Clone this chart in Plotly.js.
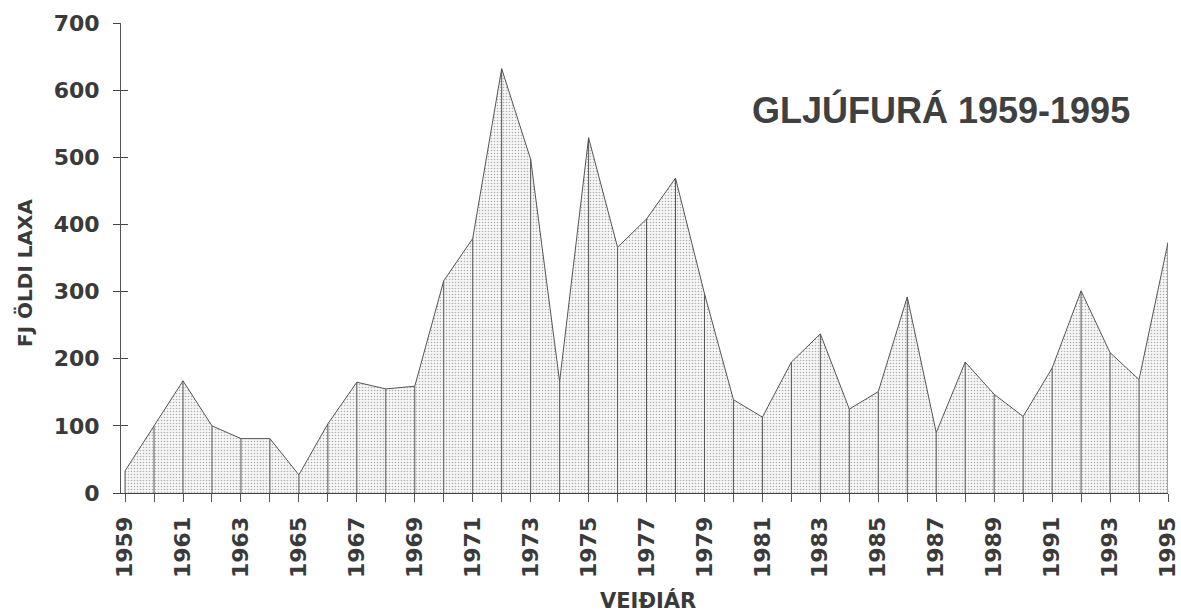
<!DOCTYPE html>
<html>
<head>
<meta charset="utf-8">
<script src="https://cdn.plot.ly/plotly-3.0.1.min.js"></script>
<style>html,body{margin:0;padding:0;background:#fff;}#chart{width:1181px;height:616px;}</style>
</head>
<body>
<div id="chart"></div>
<script>
// Data
const years = [1959,1960,1961,1962,1963,1964,1965,1966,1967,1968,1969,1970,1971,1972,1973,1974,1975,1976,1977,1978,1979,1980,1981,1982,1983,1984,1985,1986,1987,1988,1989,1990,1991,1992,1993,1994,1995];
const catch_ = [33,99,167,100,81,81,27,103,165,155,159,316,379,632,497,166,529,366,408,469,297,139,113,195,237,125,151,292,90,195,147,114,186,301,209,169,373];
const tickYears = [1959,1961,1963,1965,1967,1969,1971,1973,1975,1977,1979,1981,1983,1985,1987,1989,1991,1993,1995];
const yTicks = [0,100,200,300,400,500,600,700];
const titleText = 'GLJÚFURÁ 1959-1995';
const xTitle = 'VEIÐIÁR';
const yTitle = 'FJ ÖLDI LAXA';

// drop lines built from the data arrays
const dropX = [], dropY = [];
years.forEach((yr, i) => { dropX.push(yr, yr, null); dropY.push(0, catch_[i], null); });

const FONT = 'Liberation Sans, Arial, sans-serif';
const WIDE = 'DejaVu Sans, sans-serif';
const TXT = '#3a3a3a';
const L = 121, R = 13, PW = 1181 - L - R;

const traces = [
  {
    x: years, y: catch_, type: 'scatter', mode: 'lines',
    line: {color: '#555', width: 1},
    fill: 'tozeroy',
    fillcolor: '#f2f2f2',
    fillpattern: {shape: '.', fgcolor: '#b0b0b0', bgcolor: '#f7f7f7', size: 3, solidity: 0.22},
    hoverinfo: 'x+y', showlegend: false
  },
  {
    x: dropX, y: dropY, type: 'scatter', mode: 'lines',
    line: {color: '#555', width: 1}, yaxis: 'y2',
    hoverinfo: 'skip', showlegend: false, connectgaps: false
  }
];

const layout = {
  width: 1181, height: 616,
  margin: {l: L, r: R, t: 23, b: 123},
  paper_bgcolor: '#fff', plot_bgcolor: '#fff',
  showlegend: false,
  font: {family: FONT, color: TXT},
  xaxis: {
    range: [1958.86, 1995], showgrid: false, zeroline: false,
    showline: true, linecolor: '#444', linewidth: 1,
    ticks: 'outside', ticklen: 8, tickcolor: '#555', tickwidth: 1,
    tickmode: 'array', tickvals: years,
    ticktext: years.map(y => tickYears.includes(y) ? String(y) : ''),
    tickangle: -90, ticklabelstandoff: 6, ticklabeloverflow: 'allow',
    tickfont: {family: WIDE, size: 22, color: TXT, weight: 'bold'},
    title: {text: ''}
  },
  yaxis: {
    range: [0, 700], showgrid: false, zeroline: false,
    showline: true, linecolor: '#555', linewidth: 1,
    ticks: 'outside', ticklen: 7, tickcolor: '#444', tickwidth: 1,
    tickmode: 'array', tickvals: yTicks, ticktext: yTicks.map(String),
    ticklabelstandoff: 9, ticklabeloverflow: 'allow',
    tickfont: {family: WIDE, size: 22, color: TXT, weight: 'bold'},
    title: {text: ''}
  },
  yaxis2: {
    range: [0, 700], overlaying: 'y', side: 'left', anchor: 'x',
    showgrid: false, zeroline: false, showline: false,
    ticks: 'inside', ticklen: 7, tickcolor: '#444', tickwidth: 1,
    tickmode: 'array', tickvals: yTicks, showticklabels: false
  },
  annotations: [
    {text: titleText, xref: 'paper', yref: 'paper', x: (941-L)/PW, y: (493-110)/470, xanchor: 'center', yanchor: 'middle',
     showarrow: false, font: {family: FONT, size: 36, color: '#404040', weight: 'bold'}},
    {text: xTitle, xref: 'paper', yref: 'paper', x: (648-L)/PW, y: -(600-493)/470, xanchor: 'center', yanchor: 'middle',
     showarrow: false, font: {family: WIDE, size: 21, color: TXT, weight: 'bold'}},
    {text: yTitle, xref: 'paper', yref: 'paper', x: -(L-25)/PW, y: (493-273)/470, xanchor: 'center', yanchor: 'middle',
     textangle: -90, showarrow: false, font: {family: WIDE, size: 20, color: TXT, weight: 'bold'}}
  ]
};

Plotly.newPlot('chart', traces, layout, {displayModeBar: false, staticPlot: true});
</script>
</body>
</html>
